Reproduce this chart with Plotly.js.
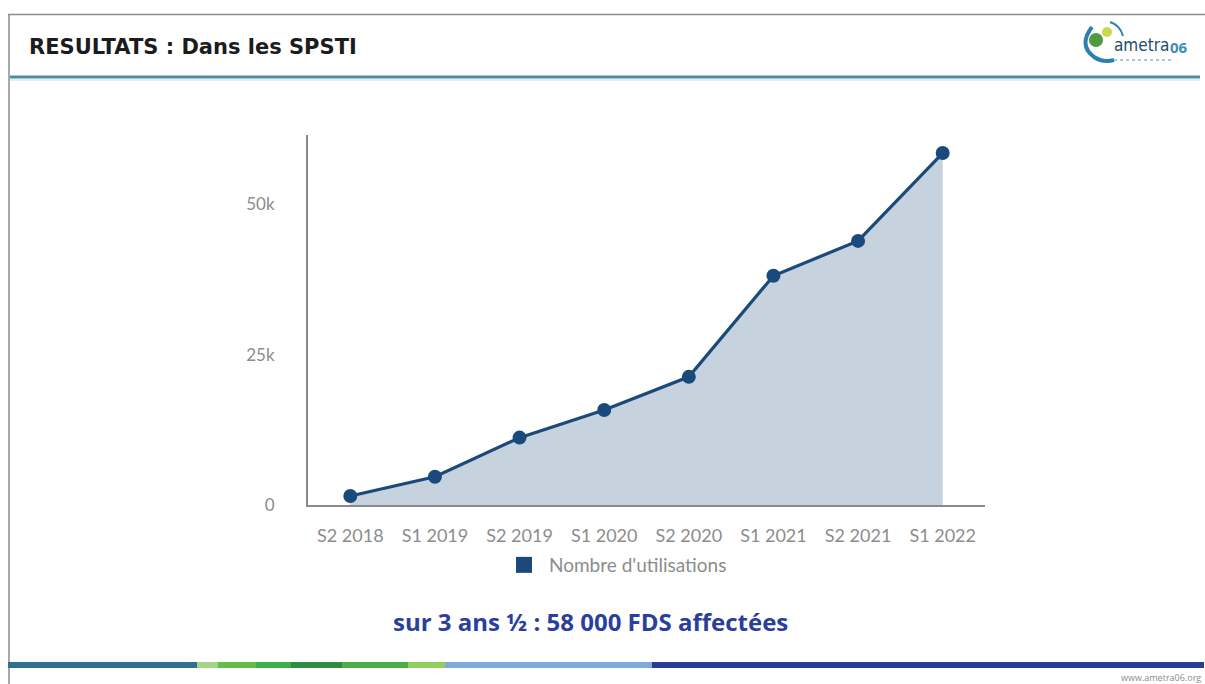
<!DOCTYPE html>
<html>
<head>
<meta charset="utf-8">
<script src="https://cdn.plot.ly/plotly-3.0.1.min.js"></script>
<style>
html,body{margin:0;padding:0;background:#fff;}
#chart{width:1205px;height:684px;}
</style>
</head>
<body>
<div id="chart"></div>
<script>
// ---- data ----
var categories = ["S2 2018","S1 2019","S2 2019","S1 2020","S2 2020","S1 2021","S2 2021","S1 2022"];
var utilisations = [1500, 4700, 11200, 15800, 21300, 38100, 43900, 58500];
var seriesName = "Nombre d'utilisations";
var yTickVals = [0, 25000, 50000];
var yTickText = ["0", "25k", "50k"];
var pageTitle = "RESULTATS : Dans les SPSTI";
var summaryText = "sur 3 ans ½ : 58 000 FDS affectées";
var logoMain = "ametra";
var logoNum = "06";
var footerText = "www.ametra06.org";

// ---- layout helpers (pixel -> paper, margins are zero) ----
var W = 1205, H = 684;
function X(px){ return px / W; }
function Y(py){ return 1 - py / H; }

var navy = "#1a4a7c";
var stripes = [
  [8, 197, "#2f6f8f"],
  [197, 218, "#a3d585"],
  [218, 256, "#62bd4b"],
  [256, 291, "#3caf49"],
  [291, 342, "#2e8c3f"],
  [342, 408, "#4eae46"],
  [408, 445, "#8fd05c"],
  [445, 652, "#7fa9db"],
  [652, 1204, "#2a3d93"]
];

var shapes = [
  // slide frame
  {type:"line", xref:"paper", yref:"paper", x0:X(8), x1:X(1205), y0:Y(14.5), y1:Y(14.5), line:{color:"#8c8c8c", width:1.5}},
  {type:"line", xref:"paper", yref:"paper", x0:X(9), x1:X(9), y0:Y(14), y1:Y(684), line:{color:"#8c8c8c", width:1.5}},
  // header separator
  {type:"line", xref:"paper", yref:"paper", x0:X(10), x1:X(1200), y0:Y(77), y1:Y(77), line:{color:"#4b8ca3", width:3}},
  {type:"line", xref:"paper", yref:"paper", x0:X(10), x1:X(1200), y0:Y(80), y1:Y(80), line:{color:"#e3eef2", width:2}},
  // logo graphics
  {type:"path", xref:"paper", yref:"paper",
   path:"M "+X(1092)+","+Y(27)+" Q "+X(1078)+","+Y(45)+" "+X(1094)+","+Y(57)+" Q "+X(1103)+","+Y(63)+" "+X(1114)+","+Y(60),
   line:{color:"#2d7fb0", width:4}},
  {type:"path", xref:"paper", yref:"paper",
   path:"M "+X(1110)+","+Y(22)+" Q "+X(1120)+","+Y(25)+" "+X(1123)+","+Y(36),
   line:{color:"#2d7fb0", width:2}},
  {type:"circle", xref:"paper", yref:"paper", x0:X(1089), x1:X(1103), y0:Y(33), y1:Y(47), fillcolor:"#4e9a3c", line:{width:0}},
  {type:"circle", xref:"paper", yref:"paper", x0:X(1102), x1:X(1112), y0:Y(27), y1:Y(37), fillcolor:"#c9d94e", line:{width:0}},
  // logo tagline rule
  {type:"line", xref:"paper", yref:"paper", x0:X(1114), x1:X(1172), y0:Y(60), y1:Y(60), line:{color:"#a9c8d8", width:2, dash:"dot"}}
];
stripes.forEach(function(s){
  shapes.push({type:"line", xref:"paper", yref:"paper", x0:X(s[0]), x1:X(s[1]), y0:Y(665), y1:Y(665), line:{color:s[2], width:6}});
});

var annotations = [
  {xref:"paper", yref:"paper", x:X(27), y:Y(47), xanchor:"left", yanchor:"middle", showarrow:false,
   text:"<b>"+pageTitle+"</b>", font:{family:"DejaVu Sans", size:21, color:"#1c1c1c"}},
  {xref:"paper", yref:"paper", x:X(590), y:Y(621), xanchor:"center", yanchor:"middle", showarrow:false,
   text:"<b>"+summaryText+"</b>", font:{family:"Open Sans", size:24, color:"#2a3e9c"}},
  {xref:"paper", yref:"paper", x:X(1112), y:Y(45), xanchor:"left", yanchor:"middle", showarrow:false,
   text:logoMain, font:{family:"DejaVu Sans Condensed", size:17, color:"#1e4e66"}},
  {xref:"paper", yref:"paper", x:X(1168), y:Y(47), xanchor:"left", yanchor:"middle", showarrow:false,
   text:"<b>"+logoNum+"</b>", font:{family:"Open Sans", size:15, color:"#3c8fb5"}},
  {xref:"paper", yref:"paper", x:X(1203), y:Y(677), xanchor:"right", yanchor:"middle", showarrow:false,
   text:footerText, font:{family:"Open Sans", size:9, color:"#8c8c8c"}}
];

var traces = [
  {type:"scatter", x:categories, y:utilisations, mode:"lines+markers", fill:"tozeroy",
   fillcolor:"#c6d3df", line:{color:navy, width:3.2}, marker:{color:navy, size:14},
   showlegend:false, name:seriesName, hoverinfo:"x+y"},
  {type:"scatter", x:[null], y:[null], mode:"markers", name:seriesName,
   marker:{symbol:"square", size:16, color:navy}, showlegend:true}
];

var layout = {
  width:W, height:H,
  margin:{l:0, r:0, t:0, b:0},
  paper_bgcolor:"#ffffff", plot_bgcolor:"#ffffff",
  font:{family:"Lato", color:"#8c8c8c"},
  xaxis:{domain:[X(308), X(985)], range:[-0.5, 7.5], type:"category",
    showline:true, linecolor:"#8a8a8a", linewidth:2, showgrid:false, zeroline:false,
    ticks:"", tickfont:{family:"Lato", size:18, color:"#8c8c8c"}, ticklabelstandoff:13},
  yaxis:{domain:[Y(505), Y(135)], range:[0, 61500],
    showline:true, linecolor:"#8a8a8a", linewidth:2, showgrid:false, zeroline:false,
    tickvals:yTickVals, ticktext:yTickText, ticks:"",
    tickfont:{family:"Lato", size:17, color:"#8c8c8c"}, ticklabelstandoff:28},
  showlegend:true,
  legend:{orientation:"h", xref:"paper", yref:"paper", x:X(499), xanchor:"left", y:Y(565), yanchor:"middle",
    itemwidth:40,
    font:{family:"Lato", size:19, color:"#8c8c8c"}, bgcolor:"rgba(0,0,0,0)"},
  shapes:shapes,
  annotations:annotations
};

Plotly.newPlot("chart", traces, layout, {displayModeBar:false, staticPlot:true});
</script>
</body>
</html>
